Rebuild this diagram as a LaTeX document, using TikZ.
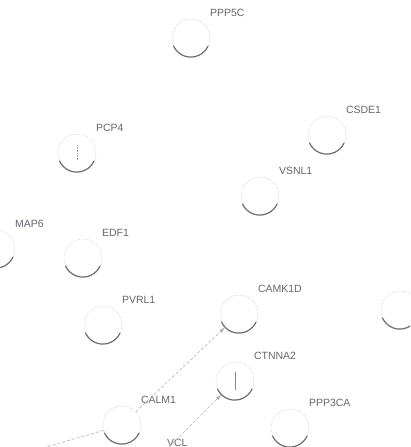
\documentclass[tikz,border=0pt]{standalone}
\usepackage{fontspec}
\setmainfont{Liberation Sans}
\usetikzlibrary{arrows.meta}
\definecolor{rim}{HTML}{55555F}
\definecolor{ink}{HTML}{66666E}

\begin{document}
\begin{tikzpicture}[
  x=1pt,y=1pt,
  label distance=6pt,
  gene/.style={circle,minimum size=38pt,inner sep=0pt,draw=rim!40,densely dotted,line width=0.5pt,
    label={[tag]45:#1}},
  tag/.style={text=ink,font=\fontsize{10.5}{12}\selectfont,inner sep=1pt,solid,yshift=2pt},
  rimline/.style={rim!85,line width=1.2pt,line cap=round},
  link/.style={rim!45,densely dashed,line width=0.6pt},
  tip/.style={-{Latex[length=6pt,width=4pt]}}
]
  \path[use as bounding box] (0,0) rectangle (410,447);
  \clip (0,0) rectangle (410,447);

  % genes
  \node[gene=PPP5C] (ppp5c) at (191,409) {};
  \node[gene=PCP4] (pcp4) at (77,294) {};
  \node[gene=CSDE1] (csde1) at (327,312) {};
  \node[gene=VSNL1] (vsnl1) at (260,251) {};
  \node[gene=MAP6] (map6) at (-4,198) {};
  \node[gene=EDF1] (edf1) at (83,189) {};
  \node[gene=PVRL1] (pvrl1) at (103,122) {};
  \node[gene=CAMK1D] (camk1d) at (239,133) {};
  \node[gene=] (rimnode) at (400,137) {};
  \node[gene=CTNNA2] (ctnna2) at (235,66) {};
  \node[gene=CALM1] (calm1) at (122,22) {};
  \node[gene=PPP3CA] (ppp3ca) at (290,19) {};
  \node[gene=VCL] (vcl) at (148,-21) {};
  \coordinate (farleft) at (-40,-25);

  % heavier lower rims
  \foreach \g in {ppp5c,pcp4,csde1,vsnl1,map6,edf1,pvrl1,camk1d,rimnode,ctnna2,calm1,ppp3ca,vcl}
    \draw[rimline] (\g.205) arc[start angle=205,end angle=335,radius=19pt];

  % links
  \draw[link,tip] (calm1) -- (camk1d);
  \draw[link] (calm1) -- (farleft);
  \draw[link,tip] (vcl) -- (ctnna2);

  % inner strokes
  \draw[rim!70,line width=0.6pt] ([yshift=9pt]ctnna2.center) -- ([yshift=-9pt]ctnna2.center);
  \draw[rim!60,densely dotted,line width=0.6pt] ([yshift=8pt]pcp4.center) -- ([yshift=-8pt]pcp4.center);
\end{tikzpicture}
\end{document}
